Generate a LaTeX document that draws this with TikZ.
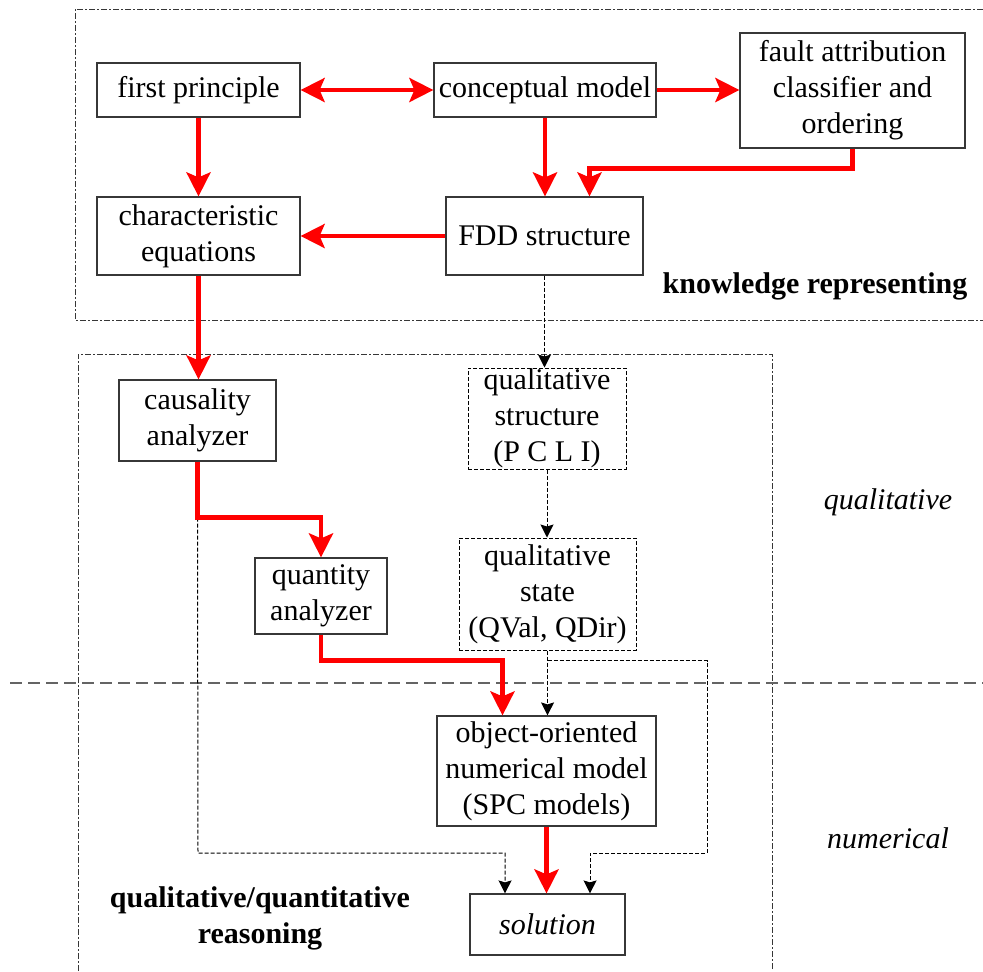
\documentclass[tikz,border=0pt]{standalone}
\usepackage{fontspec}
\setmainfont{Liberation Serif}
\usetikzlibrary{arrows.meta,calc}
\definecolor{flowred}{RGB}{255,0,0}
\definecolor{framegray}{RGB}{55,55,55}
\definecolor{sepgray}{RGB}{100,100,100}

\begin{document}
\begin{tikzpicture}[x=0.5pt,y=-0.5pt,font=\fontsize{15}{18}\selectfont,
  rtip/.tip={Stealth[length=12pt,width=12pt,inset=2.5pt]},
  btip/.tip={Stealth[length=6.5pt,width=6.5pt,inset=1pt]},
  box/.style={draw=framegray,line width=0.6pt,align=center,inner sep=0pt},
  qbox/.style={box,draw=black,line width=0.5pt,dash pattern=on 2pt off 1pt},
  flow/.style={flowred,line width=2.2pt,-rtip},
  dflow/.style={black,line width=0.5pt,dash pattern=on 2pt off 1pt,-btip},
  region/.style={framegray,line width=0.45pt,dash pattern=on 3pt off 1.2pt on 0.6pt off 1.2pt},
  lab/.style={font=\fontsize{15}{18}\selectfont\bfseries,align=center}]
  \useasboundingbox (0,0) rectangle (983,971);
  \draw[region] (983,9) -| (75,320) -- (983,320);
  \draw[region] (78,971) |- (772,354) -- (772,971);
  \draw[sepgray,line width=0.7pt,dash pattern=on 6pt off 3pt] (10,683) -- (983,683);

  \node[box,minimum width=101.5pt,minimum height=27pt] (fp) at (198.5,90) {first principle};
  \node[box,minimum width=111pt,minimum height=27pt] (cm) at (545,90) {conceptual model};
  \node[box,minimum width=112.5pt,minimum height=57.5pt] (fault) at (852.5,90.5) {fault attribution\\classifier and\\ordering};
  \node[box,minimum width=101.5pt,minimum height=39pt] (ce) at (198.5,236) {characteristic\\equations};
  \node[box,minimum width=98.5pt,minimum height=39pt] (fdd) at (544.5,236) {FDD structure};
  \node[box,minimum width=78.5pt,minimum height=40.5pt] (ca) at (197.5,420.5) {causality\\analyzer};
  \node[qbox,minimum width=79pt,minimum height=50.5pt] (qs) at (547,418.5) {qualitative\\structure\\(P C L I)};
  \node[box,minimum width=66pt,minimum height=38pt] (qa) at (321,596) {quantity\\analyzer};
  \node[qbox,minimum width=88.5pt,minimum height=56pt] (qst) at (547.5,594) {qualitative\\state\\(QVal, QDir)};
  \node[box,minimum width=109.5pt,minimum height=55pt] (oo) at (546.5,771) {object-oriented\\numerical model\\(SPC models)};
  \node[box,minimum width=77.5pt,minimum height=30.5pt] (sol) at (547.5,924.5) {\textit{solution}};

  \node[lab] (krlab) at (815,286) {knowledge representing};
  \node (qllab) at (888,502) {\textit{qualitative}};
  \node (nmlab) at (888,838) {\textit{numerical}};
  \node[lab] (qqlab) at (260,918) {qualitative/quantitative\\reasoning};

  \coordinate (cfork) at ($(ca.south)+(0,56)$);
  \coordinate (lturn) at (198,853);
  \coordinate (qfork) at ($(qst.south)+(0,10)$);
  \coordinate (rturn) at (707,853);
  \draw[dflow] (fdd.south) -- (fdd.south |- qs.north);
  \draw[dflow] (qs.south) -- (qs.south |- qst.north);
  \draw[dflow] (qst.south) -- (qst.south |- oo.north);
  \draw[dflow] (qfork) -| (rturn) -| ([xshift=21.25pt]sol.north);
  \draw[dflow] (cfork) -- (lturn) -| ([xshift=-21.25pt]sol.north);

  \draw[flow,rtip-rtip] (fp.east) -- (cm.west);
  \draw[flow] (cm.east) -- (cm.east -| fault.west);
  \draw[flow] (fp.south) -- (fp.south |- ce.north);
  \draw[flow] (cm.south) -- (cm.south |- fdd.north);
  \draw[flow] (fault.south) -- ++(0,20) -| ([xshift=22.5pt]fdd.north);
  \draw[flow] (fdd.west) -- (fdd.west -| ce.east);
  \draw[flow] (ce.south) -- (ce.south |- ca.north);
  \draw[flow] (ca.south) -- (cfork) -| (qa.north);
  \draw[flow] (qa.south) -- ++(0,26) -| ([xshift=-22pt]oo.north);
  \draw[flow] (oo.south) -- (oo.south |- sol.north);
\end{tikzpicture}
\end{document}
